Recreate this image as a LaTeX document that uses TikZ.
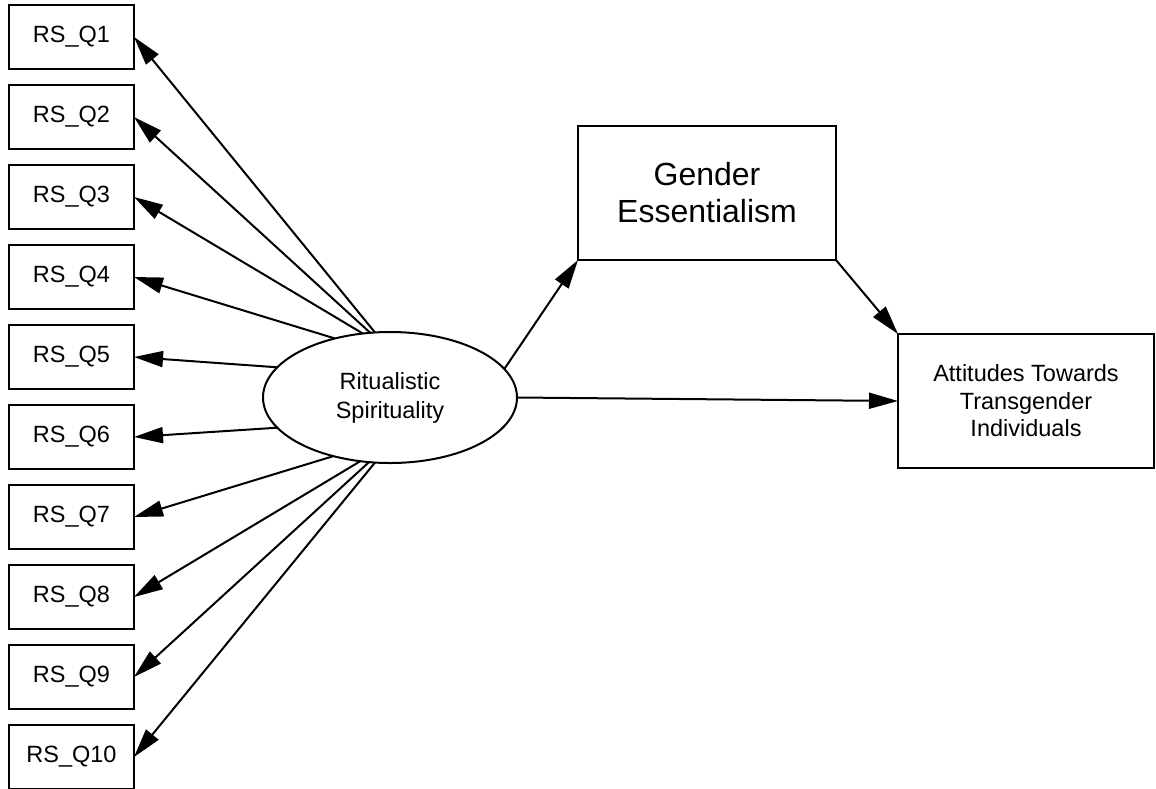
\documentclass[tikz,border=0pt]{standalone}
\usepackage{fontspec}
\setmainfont{Liberation Sans}
\usetikzlibrary{arrows.meta,shapes.geometric}
\begin{document}
\begin{tikzpicture}[x=1pt,y=-1pt,
  line width=2pt,
  itembox/.style={draw, rectangle, minimum width=125pt, minimum height=64pt, inner sep=0pt, outer sep=0pt,
    font=\fontsize{23.5}{28}\selectfont},
  bigbox/.style={draw, rectangle, inner sep=0pt, outer sep=0pt, align=center},
  latent/.style={draw, ellipse, minimum width=254pt, minimum height=131pt, inner sep=0pt, outer sep=0pt,
    align=center, font=\fontsize{23.5}{29}\selectfont},
  arr/.style={-{Triangle[length=29pt,width=16pt]}, line width=2pt}
]
\path[use as bounding box] (0,0) rectangle (1156,788);

\node[itembox] (q1) at (71.5,37) {RS\_Q1};
\node[itembox] (q2) at (71.5,117) {RS\_Q2};
\node[itembox] (q3) at (71.5,197) {RS\_Q3};
\node[itembox] (q4) at (71.5,277) {RS\_Q4};
\node[itembox] (q5) at (71.5,357) {RS\_Q5};
\node[itembox] (q6) at (71.5,437) {RS\_Q6};
\node[itembox] (q7) at (71.5,517) {RS\_Q7};
\node[itembox] (q8) at (71.5,597) {RS\_Q8};
\node[itembox] (q9) at (71.5,677) {RS\_Q9};
\node[itembox] (q10) at (71.5,757) {RS\_Q10};

\node[latent] (rs) at (390,397.5) {Ritualistic\\Spirituality};

\node[bigbox, minimum width=258pt, minimum height=134pt, font=\fontsize{32}{37}\selectfont] (ge) at (707,193) {Gender\\Essentialism};

\node[bigbox, minimum width=256pt, minimum height=134pt, font=\fontsize{23.5}{27.5}\selectfont] (att) at (1026,401) {Attitudes Towards\\Transgender\\Individuals};

\draw[arr] (rs.103) -- (q1.east);
\draw[arr] (rs.107) -- (q2.east);
\draw[arr] (rs.113) -- (q3.east);
\draw[arr] (rs.133) -- (q4.east);
\draw[arr] (rs.165) -- (q5.east);
\draw[arr] (rs.195) -- (q6.east);
\draw[arr] (rs.226) -- (q7.east);
\draw[arr] (rs.245) -- (q8.east);
\draw[arr] (rs.252) -- (q9.east);
\draw[arr] (rs.257) -- (q10.east);

\draw[arr] (rs.14) -- (ge.south west);
\draw[arr] (ge.south east) -- (att.north west);
\draw[arr] (rs.east) -- (att.west);
\end{tikzpicture}
\end{document}
